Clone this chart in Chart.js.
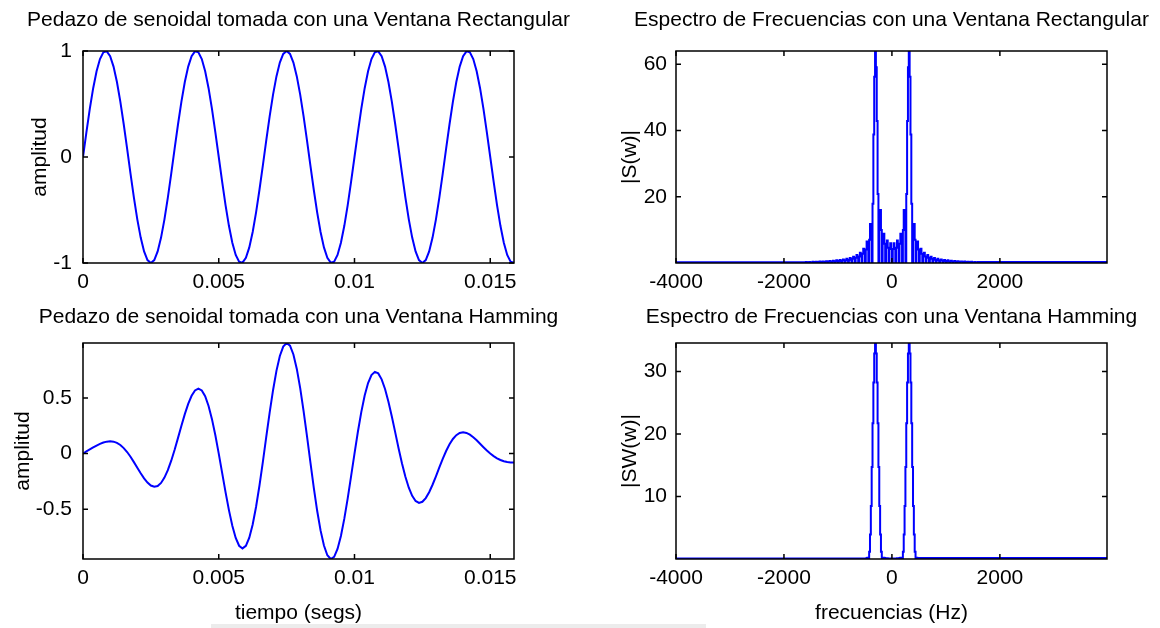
<!DOCTYPE html>
<html lang="es">
<head>
<meta charset="utf-8">
<title>Ventana Rectangular y Hamming</title>
<script src="https://cdn.jsdelivr.net/npm/chart.js@4.4.1/dist/chart.umd.min.js"></script>
<style>
  html, body { margin: 0; padding: 0; background: #fff; }
  #lienzo { position: relative; width: 1160px; height: 628px; overflow: hidden; background: #fff; }
  #lienzo canvas { position: absolute; }
  #franja { position: absolute; left: 211px; top: 624px; width: 495px; height: 4px; background: #ececec; }
</style>
</head>
<body>
<div id="lienzo">
  <canvas id="senoRectCanvas" width="580" height="300" style="left:0;top:0"></canvas>
  <canvas id="espRectCanvas" width="580" height="300" style="left:580px;top:0"></canvas>
  <canvas id="senoHammCanvas" width="580" height="328" style="left:0;top:300px"></canvas>
  <canvas id="espHammCanvas" width="580" height="328" style="left:580px;top:300px"></canvas>
  <div id="franja"></div>
</div>
<script>
// muestreo
const fs = 8000;
const df = 15.625; // resolucion de la fft de 512 puntos

// senoidal de 128 muestras con ventana rectangular
const senoRect = [
  0, 0.233, 0.454, 0.649, 0.809, 0.924, 0.988, 0.997, 0.951, 0.853,
  0.707, 0.522, 0.309, 0.078, -0.156, -0.383, -0.588, -0.760, -0.891, -0.972,
  -1, -0.972, -0.891, -0.760, -0.588, -0.383, -0.156, 0.078, 0.309, 0.522,
  0.707, 0.853, 0.951, 0.997, 0.988, 0.924, 0.809, 0.649, 0.454, 0.233,
  0, -0.233, -0.454, -0.649, -0.809, -0.924, -0.988, -0.997, -0.951, -0.853,
  -0.707, -0.522, -0.309, -0.078, 0.156, 0.383, 0.588, 0.760, 0.891, 0.972,
  1, 0.972, 0.891, 0.760, 0.588, 0.383, 0.156, -0.078, -0.309, -0.522,
  -0.707, -0.853, -0.951, -0.997, -0.988, -0.924, -0.809, -0.649, -0.454, -0.233,
  0, 0.233, 0.454, 0.649, 0.809, 0.924, 0.988, 0.997, 0.951, 0.853,
  0.707, 0.522, 0.309, 0.078, -0.156, -0.383, -0.588, -0.760, -0.891, -0.972,
  -1, -0.972, -0.891, -0.760, -0.588, -0.383, -0.156, 0.078, 0.309, 0.522,
  0.707, 0.853, 0.951, 0.997, 0.988, 0.924, 0.809, 0.649, 0.454, 0.233,
  0, -0.233, -0.454, -0.649, -0.809, -0.924, -0.988, -0.997
];

// la misma senoidal multiplicada por la ventana Hamming
const senoHamm = [
  0, 0.019, 0.037, 0.055, 0.072, 0.087, 0.099, 0.107, 0.110, 0.107,
  0.096, 0.077, 0.049, 0.014, -0.029, -0.077, -0.127, -0.177, -0.223, -0.261,
  -0.287, -0.298, -0.291, -0.264, -0.216, -0.149, -0.064, 0.034, 0.141, 0.250,
  0.354, 0.446, 0.519, 0.567, 0.584, 0.567, 0.515, 0.427, 0.309, 0.164,
  0, -0.174, -0.347, -0.508, -0.649, -0.758, -0.828, -0.852, -0.829, -0.756,
  -0.637, -0.478, -0.287, -0.074, 0.149, 0.367, 0.569, 0.743, 0.876, 0.961,
  0.993, 0.969, 0.890, 0.760, 0.588, 0.382, 0.156, -0.078, -0.306, -0.514,
  -0.690, -0.826, -0.913, -0.947, -0.928, -0.857, -0.740, -0.585, -0.403, -0.203,
  0, 0.196, 0.372, 0.521, 0.633, 0.705, 0.734, 0.720, 0.667, 0.580,
  0.465, 0.332, 0.190, 0.046, -0.089, -0.209, -0.307, -0.380, -0.426, -0.443,
  -0.433, -0.400, -0.347, -0.280, -0.204, -0.125, -0.048, 0.023, 0.083, 0.131,
  0.165, 0.185, 0.191, 0.185, 0.170, 0.147, 0.119, 0.088, 0.057, 0.027,
  0, -0.023, -0.043, -0.058, -0.069, -0.076, -0.080, -0.080
];

// |S(w)|, bins -102..102 (ventana rectangular)
const binRect0 = -102;
const espRect = [
  0.3, 0.22, 0, 0.23, 0.33, 0.24, 0, 0.25, 0.36, 0.26,
  0, 0.28, 0.4, 0.29, 0, 0.31, 0.44, 0.32, 0, 0.34,
  0.49, 0.36, 0, 0.38, 0.55, 0.4, 0, 0.43, 0.62, 0.45,
  0, 0.48, 0.7, 0.51, 0, 0.55, 0.8, 0.59, 0, 0.63,
  0.93, 0.68, 0, 0.73, 1.08, 0.79, 0, 0.86, 1.27, 0.94,
  0, 1.0, 1.5, 1.1, 0, 1.3, 1.9, 1.4, 0, 1.6,
  2.4, 1.8, 0, 2.0, 3.1, 2.4, 0, 2.8, 4.3, 3.3,
  0, 4.1, 6.5, 5.2, 0, 7.0, 11.8, 10.2, 0, 17.9,
  38.8, 56.2, 64, 59.1, 42.9, 20.8, 0, 13.2, 16.0, 10.0,
  0, 6.8, 8.8, 5.8, 0, 5.0, 6.8, 4.6, 0, 4.3,
  6.0, 4.2,
  0,
  4.2, 6.0, 4.3, 0, 4.6, 6.8, 5.0, 0, 5.8, 8.8,
  6.8, 0, 10.0, 16.0, 13.2, 0, 20.8, 42.9, 59.1, 64,
  56.2, 38.8, 17.9, 0, 10.2, 11.8, 7.0, 0, 5.2, 6.5,
  4.1, 0, 3.3, 4.3, 2.8, 0, 2.4, 3.1, 2.0, 0,
  1.8, 2.4, 1.6, 0, 1.4, 1.9, 1.3, 0, 1.1, 1.5,
  1.0, 0, 0.94, 1.27, 0.86, 0, 0.79, 1.08, 0.73, 0,
  0.68, 0.93, 0.63, 0, 0.59, 0.8, 0.55, 0, 0.51, 0.7,
  0.48, 0, 0.45, 0.62, 0.43, 0, 0.4, 0.55, 0.38, 0,
  0.36, 0.49, 0.34, 0, 0.32, 0.44, 0.31, 0, 0.29, 0.4,
  0.28, 0, 0.26, 0.36, 0.25, 0, 0.24, 0.33, 0.23, 0,
  0.22, 0.3
];
const colaRect = 0.2;

// |SW(w)|, bins -30..30 (ventana Hamming)
const binHamm0 = -30;
const espHamm = [
  0.15, 0.22, 0, 1.18, 3.91, 8.5, 14.72, 21.73, 28.25, 32.88,
  34.56, 32.88, 28.25, 21.73, 14.72, 8.5, 3.91, 1.18, 0, 0.22,
  0.2, 0.15, 0.06, 0.1, 0.12, 0.1, 0.05, 0.07, 0.1, 0.08,
  0.1,
  0.08, 0.1, 0.07, 0.05, 0.1, 0.12, 0.1, 0.06, 0.15, 0.2,
  0.22, 0, 1.18, 3.91, 8.5, 14.72, 21.73, 28.25, 32.88, 34.56,
  32.88, 28.25, 21.73, 14.72, 8.5, 3.91, 1.18, 0, 0.22, 0.15
];
const colaHamm = 0.1;

// marcas de los ejes
const ticksTiempo = [0, 0.005, 0.01, 0.015];
const ticksFrec = [-4000, -2000, 0, 2000];
const ticksSenoRect = [-1, 0, 1];
const ticksSenoHamm = [-0.5, 0, 0.5];
const ticksEspRect = [20, 40, 60];
const ticksEspHamm = [10, 20, 30];

const FAMILIA = "'Liberation Sans', Arial, sans-serif";
Chart.defaults.font.family = FAMILIA;
Chart.defaults.font.size = 21;
Chart.defaults.color = '#000';

const tiempo = senoRect.map((_, n) => n / fs);

function puntosTiempo(valores) {
  return valores.map((v, n) => ({ x: tiempo[n], y: v }));
}

function puntosFrec(valores, bin0, cola) {
  const pts = valores.map((v, i) => ({ x: (bin0 + i) * df, y: v }));
  return [{ x: -fs / 2, y: cola }].concat(pts, [{ x: fs / 2 - df, y: cola }]);
}

// caja con marcas hacia dentro y titulo centrado sobre la caja
const marco = {
  id: 'marco',
  afterDraw(chart, args, opts) {
    const { ctx, chartArea: a, scales } = chart;
    ctx.save();
    ctx.strokeStyle = '#000';
    ctx.lineWidth = 1.5;
    ctx.beginPath();
    scales.x.ticks.forEach(t => {
      const px = scales.x.getPixelForValue(t.value);
      ctx.moveTo(px, a.bottom); ctx.lineTo(px, a.bottom - 5);
      ctx.moveTo(px, a.top); ctx.lineTo(px, a.top + 5);
    });
    scales.y.ticks.forEach(t => {
      const py = scales.y.getPixelForValue(t.value);
      ctx.moveTo(a.left, py); ctx.lineTo(a.left + 5, py);
      ctx.moveTo(a.right, py); ctx.lineTo(a.right - 5, py);
    });
    ctx.stroke();
    ctx.strokeRect(a.left, a.top, a.right - a.left, a.bottom - a.top);
    ctx.fillStyle = '#000';
    ctx.font = '21px ' + FAMILIA;
    ctx.textAlign = 'center';
    ctx.textBaseline = 'middle';
    ctx.fillText(opts.texto, (a.left + a.right) / 2, opts.y);
    ctx.restore();
  }
};

function dibujar(id, o) {
  const canvas = document.getElementById(id);
  const alto = canvas.height, ancho = canvas.width;
  const ys = o.puntos.map(p => p.y);
  return new Chart(canvas, {
    type: 'line',
    data: {
      datasets: [{
        data: o.puntos,
        borderColor: '#0000ff',
        borderWidth: 2,
        pointRadius: 0,
        tension: 0,
        fill: false,
        stepped: o.escalon || false
      }]
    },
    options: {
      responsive: false,
      animation: false,
      devicePixelRatio: 1,
      events: [],
      layout: { padding: { left: 0, top: o.area.top, right: ancho - o.area.right, bottom: 0 } },
      plugins: {
        legend: { display: false },
        tooltip: { enabled: false },
        marco: { texto: o.titulo, y: o.tituloY }
      },
      scales: {
        x: {
          type: 'linear',
          position: 'bottom',
          min: o.xMin,
          max: o.xMax,
          grid: { display: false, drawTicks: false, tickLength: 0 },
          border: { display: false },
          ticks: { padding: 6.9, maxRotation: 0, autoSkip: false, callback: v => String(v) },
          title: { display: !!o.xTitulo, text: o.xTitulo || '', padding: { top: 0, bottom: 2.4 } },
          afterBuildTicks: s => { s.ticks = o.xTicks.map(v => ({ value: v })); },
          afterFit: s => {
            s.height = alto - o.area.bottom;
            s.paddingLeft = s.paddingRight = s.paddingTop = s.paddingBottom = 0;
          }
        },
        y: {
          type: 'linear',
          position: 'left',
          min: Math.min(...ys),
          max: Math.max(...ys),
          grid: { display: false, drawTicks: false, tickLength: 0 },
          border: { display: false },
          ticks: { padding: o.padY, autoSkip: false, callback: v => String(v) },
          title: { display: true, text: o.yTitulo, padding: { top: o.yTitPad, bottom: 0 } },
          afterBuildTicks: s => { s.ticks = o.yTicks.map(v => ({ value: v })); },
          afterFit: s => {
            s.width = o.area.left;
            s.paddingLeft = s.paddingRight = s.paddingTop = s.paddingBottom = 0;
          }
        }
      }
    },
    plugins: [marco]
  });
}

dibujar('senoRectCanvas', {
  puntos: puntosTiempo(senoRect),
  area: { left: 83, top: 51, right: 514, bottom: 263 },
  xMin: 0, xMax: tiempo[tiempo.length - 1], xTicks: ticksTiempo,
  yTicks: ticksSenoRect, padY: 11, yTitulo: 'amplitud', yTitPad: 28.1,
  titulo: 'Pedazo de senoidal tomada con una Ventana Rectangular', tituloY: 20
});

dibujar('espRectCanvas', {
  puntos: puntosFrec(espRect, binRect0, colaRect), escalon: true,
  area: { left: 96, top: 51, right: 527, bottom: 263 },
  xMin: -fs / 2, xMax: fs / 2 - df, xTicks: ticksFrec,
  yTicks: ticksEspRect, padY: 9, yTitulo: '|S(w)|', yTitPad: 37.4,
  titulo: 'Espectro de Frecuencias con una Ventana Rectangular', tituloY: 20
});

dibujar('senoHammCanvas', {
  puntos: puntosTiempo(senoHamm),
  area: { left: 83, top: 43, right: 514, bottom: 259 },
  xMin: 0, xMax: tiempo[tiempo.length - 1], xTicks: ticksTiempo, xTitulo: 'tiempo (segs)',
  yTicks: ticksSenoHamm, padY: 11, yTitulo: 'amplitud', yTitPad: 10.3,
  titulo: 'Pedazo de senoidal tomada con una Ventana Hamming', tituloY: 17.5
});

dibujar('espHammCanvas', {
  puntos: puntosFrec(espHamm, binHamm0, colaHamm), escalon: true,
  area: { left: 96, top: 43, right: 527, bottom: 259 },
  xMin: -fs / 2, xMax: fs / 2 - df, xTicks: ticksFrec, xTitulo: 'frecuencias (Hz)',
  yTicks: ticksEspHamm, padY: 9, yTitulo: '|SW(w)|', yTitPad: 37.4,
  titulo: 'Espectro de Frecuencias con una Ventana Hamming', tituloY: 17.5
});
</script>
</body>
</html>
